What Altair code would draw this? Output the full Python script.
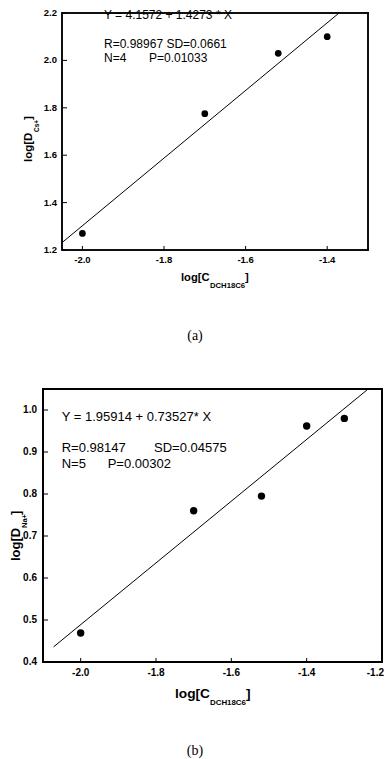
import altair as alt
import pandas as pd

# ---------------- data: panel (a) ----------------
a_x = [-2.0, -1.7, -1.52, -1.4]
a_y = [1.27, 1.775, 2.03, 2.10]
a_fit_x = [-2.05, -1.371]
a_fit_y = [1.231, 2.2]
a_xdomain = [-2.05, -1.3]
a_ydomain = [1.2, 2.2]
a_xticks = [-2.0, -1.8, -1.6, -1.4]
a_yticks = [1.2, 1.4, 1.6, 1.8, 2.0, 2.2]
a_eq = "Y = 4.1572 + 1.4273 * X"
a_r = "R=0.98967 SD=0.0661"
a_n = "N=4"
a_p = "P=0.01033"

# ---------------- data: panel (b) ----------------
b_x = [-2.0, -1.7, -1.52, -1.4, -1.3]
b_y = [0.469, 0.76, 0.795, 0.962, 0.98]
b_fit_x = [-2.072, -1.238]
b_fit_y = [0.436, 1.049]
b_xdomain = [-2.1, -1.2]
b_ydomain = [0.4, 1.05]
b_xticks = [-2.0, -1.8, -1.6, -1.4, -1.2]
b_yticks = [0.4, 0.5, 0.6, 0.7, 0.8, 0.9, 1.0]
b_eq = "Y = 1.95914 + 0.73527* X"
b_r = "R=0.98147"
b_sd = "SD=0.04575"
b_n = "N=5"
b_p = "P=0.00302"

W, H = 376, 751
SANS = "Liberation Sans"
SERIF = "Liberation Serif"


def txt(s, x, y, size, bold=False, font=SANS, angle=0, align="left", baseline="alphabetic"):
    kw = dict(fontSize=size, font=font, color="black", align=align, baseline=baseline)
    if bold:
        kw["fontWeight"] = "bold"
    if angle:
        kw["angle"] = angle
    return alt.Chart(pd.DataFrame({"t": [s]})).mark_text(**kw).encode(
        text="t:N", x=alt.value(x), y=alt.value(y)
    )


def panel(px, py, fx, fy, xdom, ydom, xr, yr, xt, yt, lab_size, lab_pad_x, lab_pad_y,
          frame_w, pt_size, extras):
    xs = alt.Scale(domain=xdom, range=xr, nice=False, zero=False)
    ys = alt.Scale(domain=ydom, range=yr, nice=False, zero=False)
    hw = frame_w / 2.0

    # frame as thin filled bands at the domain limits
    vband = alt.Chart(pd.DataFrame({"v": xdom})).mark_rect(
        color="black", xOffset=-hw, x2Offset=hw
    ).encode(x=alt.X("v:Q", scale=xs, axis=None), x2="v:Q",
             y=alt.value(yr[0] + hw), y2=alt.value(yr[1] - hw))
    hband = alt.Chart(pd.DataFrame({"v": ydom})).mark_rect(
        color="black", yOffset=-hw, y2Offset=hw
    ).encode(y=alt.Y("v:Q", scale=ys, axis=None), y2="v:Q",
             x=alt.value(xr[0] - hw), x2=alt.value(xr[1] + hw))

    # same frame as a closed outline through the domain corners
    frame_df = pd.DataFrame({
        "i": [0, 1, 2, 3, 4],
        "fx": [xdom[0], xdom[1], xdom[1], xdom[0], xdom[0]],
        "fy": [ydom[0], ydom[0], ydom[1], ydom[1], ydom[0]],
    })
    frame = alt.Chart(frame_df).mark_line(
        color="black", strokeWidth=frame_w, strokeJoin="miter"
    ).encode(x=alt.X("fx:Q", scale=xs, axis=None), y=alt.Y("fy:Q", scale=ys, axis=None),
             order=alt.Order("i:Q"))

    fit = alt.Chart(pd.DataFrame({"x": fx, "y": fy})).mark_line(
        color="black", strokeWidth=1
    ).encode(x=alt.X("x:Q", scale=xs, axis=None), y=alt.Y("y:Q", scale=ys, axis=None))

    pts = alt.Chart(pd.DataFrame({"x": px, "y": py})).mark_circle(
        size=pt_size, color="black", opacity=1
    ).encode(x=alt.X("x:Q", scale=xs, axis=None), y=alt.Y("y:Q", scale=ys, axis=None))

    xdf = pd.DataFrame({"v": xt, "lab": [f"{v:.1f}" for v in xt]})
    ydf = pd.DataFrame({"v": yt, "lab": [f"{v:.1f}" for v in yt]})

    xtk = alt.Chart(xdf).mark_rule(color="black", strokeWidth=1).encode(
        x=alt.X("v:Q", scale=xs, axis=None), y=alt.value(yr[0]), y2=alt.value(yr[0] - 4)
    )
    ytk = alt.Chart(ydf).mark_rule(color="black", strokeWidth=1).encode(
        y=alt.Y("v:Q", scale=ys, axis=None), x=alt.value(xr[0]), x2=alt.value(xr[0] + 5)
    )

    edge = xdom[1] - 1e-6
    xdf_main = xdf[xdf["v"] < edge]
    xdf_edge = xdf[xdf["v"] >= edge]
    xlab = alt.Chart(xdf_main).mark_text(
        font=SANS, fontSize=lab_size, fontWeight="bold", color="black",
        align="center", baseline="top"
    ).encode(x=alt.X("v:Q", scale=xs, axis=None), y=alt.value(yr[0] + lab_pad_x), text="lab:N")
    layers = [vband, hband, frame, fit, pts, xtk, ytk, xlab]
    if len(xdf_edge):
        layers.append(alt.Chart(xdf_edge).mark_text(
            font=SANS, fontSize=lab_size, fontWeight="bold", color="black",
            align="right", baseline="top", dx=2
        ).encode(x=alt.X("v:Q", scale=xs, axis=None), y=alt.value(yr[0] + lab_pad_x), text="lab:N"))
    ylab = alt.Chart(ydf).mark_text(
        font=SANS, fontSize=lab_size, fontWeight="bold", color="black",
        align="right", baseline="middle"
    ).encode(y=alt.Y("v:Q", scale=ys, axis=None), x=alt.value(xr[0] - lab_pad_y), text="lab:N")
    layers.append(ylab)
    return alt.layer(*layers, *extras)


extras_a = [
    txt(a_eq, 96, 11, 12),
    txt(a_r, 96, 39.5, 12),
    txt(a_n, 96, 53.5, 12),
    txt(a_p, 141, 53.5, 12),
    # x title
    txt("log[C", 173, 273, 11.2, bold=True),
    txt("DCH18C6", 202, 280, 7.7, bold=True),
    txt("]", 237, 273, 11.2, bold=True),
    # y title (rotated)
    txt("log[D", 24, 154, 11.5, bold=True, angle=270),
    txt("Cs+", 31, 124, 6.5, bold=True, angle=270),
    txt("]", 24, 112, 11.5, bold=True, angle=270),
    # panel label
    txt("(a)", 187, 332, 14, font=SERIF, align="center"),
]

extras_b = [
    txt(b_eq, 53.7, 412.7, 13),
    txt(b_r, 53.7, 443.7, 13),
    txt(b_sd, 146, 443.7, 13),
    txt(b_n, 53.7, 459.5, 13),
    txt(b_p, 99.7, 459.5, 13),
    # x title
    txt("log[C", 167, 690, 13.7, bold=True),
    txt("DCH18C6", 202, 697, 7.9, bold=True),
    txt("]", 238, 690, 13.7, bold=True),
    # y title (rotated)
    txt("log[D", 12, 553, 13, bold=True, angle=270),
    txt("Na+", 19, 520, 7.5, bold=True, angle=270),
    txt("]", 12, 507, 13, bold=True, angle=270),
    # panel label
    txt("(b)", 187, 747, 14, font=SERIF, align="center"),
]

pa = panel(a_x, a_y, a_fit_x, a_fit_y, a_xdomain, a_ydomain, [54, 360], [242, 5],
           a_xticks, a_yticks, 9.5, 5, 5, 1.5, 45, extras_a)
pb = panel(b_x, b_y, b_fit_x, b_fit_y, b_xdomain, b_ydomain, [35, 374], [654, 381],
           b_xticks, b_yticks, 10, 6, 6, 2, 55, extras_b)

chart = alt.layer(pa, pb).resolve_scale(
    x="independent", y="independent"
).properties(
    width=W, height=H, autosize=alt.AutoSizeParams(type="none"), padding=0
).configure_view(stroke=None)

chart.save("out.html", embed_options={"renderer": "svg", "actions": False})
